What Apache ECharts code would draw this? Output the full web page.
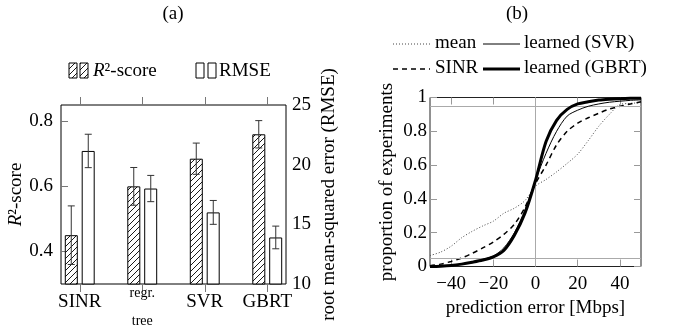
<!DOCTYPE html>
<html>
<head>
<meta charset="utf-8">
<script src="https://cdn.jsdelivr.net/npm/echarts@6/dist/echarts.min.js"></script>
<style>
  html, body { margin: 0; background: #fff; }
  #chart { width: 673px; height: 334px; }
</style>
</head>
<body>
<div id="chart"></div>
<script>
// (a) regression quality per predictor
const methods = ['SINR', 'regr. tree', 'SVR', 'GBRT'];
const r2Score = [0.45, 0.60, 0.685, 0.76];
const r2Err = [0.09, 0.058, 0.048, 0.042];
const rmse = [21.15, 18.0, 16.0, 13.9];
const rmseErr = [1.4, 1.1, 1.0, 0.95];
const r2Ticks = [0.4, 0.6, 0.8];
const methodTicks = [0, 1, 2, 3];

// (b) CDF of the prediction error
const errX = [-50, -45, -40, -35, -30, -25, -20, -15, -10, -5, 0, 5, 10, 15, 20, 25, 30, 35, 40, 45, 50];
const cdfMean = [0.065, 0.085, 0.12, 0.17, 0.208, 0.24, 0.268, 0.315, 0.345, 0.39, 0.475, 0.515, 0.56, 0.61, 0.665, 0.745, 0.83, 0.9, 0.958, 0.965, 0.97];
const cdfSinr = [0.005, 0.014, 0.03, 0.05, 0.078, 0.11, 0.145, 0.19, 0.25, 0.35, 0.49, 0.6, 0.72, 0.8, 0.848, 0.88, 0.907, 0.932, 0.948, 0.962, 0.975];
const cdfSvr = [0.0, 0.003, 0.007, 0.015, 0.027, 0.042, 0.062, 0.11, 0.2, 0.335, 0.51, 0.67, 0.8, 0.89, 0.925, 0.948, 0.962, 0.972, 0.978, 0.983, 0.986];
const cdfGbrt = [0.0, 0.002, 0.006, 0.014, 0.025, 0.038, 0.057, 0.095, 0.185, 0.315, 0.51, 0.74, 0.865, 0.93, 0.962, 0.975, 0.985, 0.99, 0.993, 0.995, 0.996];
const refY = [0.05, 0.95];
const refX = [0];
const errTicks = [-40, -20, 0, 20, 40];

const FONT = 'Liberation Serif';
const zip = (xs, ys) => xs.map((x, i) => [x, ys[i]]);

// diagonal hatch used for the R2 bars
function makeHatch() {
  const c = document.createElement('canvas');
  c.width = c.height = 6;
  const g = c.getContext('2d');
  g.fillStyle = '#fff';
  g.fillRect(0, 0, 6, 6);
  g.strokeStyle = '#000';
  g.lineWidth = 0.9;
  g.beginPath();
  g.moveTo(0, 6); g.lineTo(6, 0);
  g.moveTo(-1, 1); g.lineTo(1, -1);
  g.moveTo(5, 7); g.lineTo(7, 5);
  g.stroke();
  return c;
}
const hatch = { image: makeHatch(), repeat: 'repeat' };

function errorBars(mean, err, yIdx, dx) {
  return {
    type: 'custom',
    xAxisIndex: 0,
    yAxisIndex: yIdx,
    z: 5,
    data: mean.map((m, i) => [i, m - err[i], m + err[i]]),
    renderItem(params, api) {
      const lo = api.coord([api.value(0), api.value(1)]);
      const hi = api.coord([api.value(0), api.value(2)]);
      const x = lo[0] + dx, w = 3.5;
      const st = () => ({ stroke: '#333', lineWidth: 1 });
      return {
        type: 'group',
        children: [
          { type: 'line', shape: { x1: x, y1: lo[1], x2: x, y2: hi[1] }, style: st() },
          { type: 'line', shape: { x1: x - w, y1: lo[1], x2: x + w, y2: lo[1] }, style: st() },
          { type: 'line', shape: { x1: x - w, y1: hi[1], x2: x + w, y2: hi[1] }, style: st() }
        ]
      };
    }
  };
}

function legendLine(x, y, style) {
  return { type: 'line', shape: { x1: x, y1: y, x2: x + 37, y2: y }, style: Object.assign({ stroke: '#000' }, style) };
}
function legendText(x, y, text) {
  return { type: 'text', x: x, y: y, style: { text: text, font: '19px "Liberation Serif"', fill: '#000', verticalAlign: 'middle' } };
}
function legendBox(x, y, fill) {
  return { type: 'rect', shape: { x: x, y: y, width: 8, height: 15 }, style: { fill: fill, stroke: '#000', lineWidth: 1 } };
}

const labelStyle = { fontFamily: FONT, fontSize: 19, color: '#000' };
const blank = () => '';
const noLine = { show: false, onZero: false };

const option = {
  animation: false,
  textStyle: { fontFamily: FONT },
  grid: [
    { left: 61, right: 387, top: 105, bottom: 50, show: true, borderColor: '#000', borderWidth: 1, backgroundColor: 'transparent' },
    { left: 430, right: 32, top: 97.5, bottom: 67.5, show: true, borderColor: '#222', borderWidth: 1, backgroundColor: 'transparent' }
  ],
  xAxis: [
    {
      type: 'value', gridIndex: 0, position: 'bottom', min: -0.3, max: 3.3,
      axisLine: noLine, splitLine: { show: false },
      axisTick: { show: true, inside: false, length: 8, customValues: methodTicks, lineStyle: { color: '#777' } },
      axisLabel: {
        customValues: methodTicks, margin: 9, verticalAlign: 'top', ...labelStyle,
        formatter: v => v === 1 ? '{a|regr.}\n{b|tree}' : methods[v],
        rich: {
          a: { fontFamily: FONT, fontSize: 14, lineHeight: 1, color: '#000' },
          b: { fontFamily: FONT, fontSize: 14, lineHeight: 54, color: '#000' }
        }
      }
    },
    {
      type: 'value', gridIndex: 0, position: 'top', min: -0.3, max: 3.3,
      axisLine: noLine, splitLine: { show: false },
      axisTick: { show: true, inside: false, length: 8, customValues: methodTicks, lineStyle: { color: '#777' } },
      axisLabel: { customValues: methodTicks, formatter: blank }
    },
    {
      type: 'value', gridIndex: 1, position: 'bottom', min: -50, max: 50,
      axisLine: noLine, splitLine: { show: false },
      axisTick: { show: true, inside: true, length: 7, customValues: errTicks, lineStyle: { color: '#999' } },
      axisLabel: { customValues: errTicks, margin: 8, ...labelStyle, formatter: v => v < 0 ? '\u2212' + (-v) : String(v) },
      name: 'prediction error [Mbps]', nameLocation: 'middle', nameGap: 27,
      nameTextStyle: { fontFamily: FONT, fontSize: 19, color: '#000' }
    },
    {
      type: 'value', gridIndex: 1, position: 'top', min: -50, max: 50,
      axisLine: noLine, splitLine: { show: false },
      axisTick: { show: true, inside: true, length: 7, customValues: errTicks, lineStyle: { color: '#999' } },
      axisLabel: { customValues: errTicks, formatter: blank }
    }
  ],
  yAxis: [
    {
      type: 'value', gridIndex: 0, position: 'left', min: 0.3, max: 0.85,
      axisLine: noLine, splitLine: { show: false },
      axisTick: { show: true, inside: true, length: 7, customValues: r2Ticks, lineStyle: { color: '#777' } },
      axisLabel: { customValues: r2Ticks, margin: 8, ...labelStyle, formatter: v => v.toFixed(1) },
      name: '{i|R}\u00b2-score', nameLocation: 'middle', nameRotate: 90, nameGap: 31,
      nameTextStyle: {
        fontFamily: FONT, fontSize: 19, color: '#000',
        rich: { i: { fontFamily: FONT, fontSize: 19, fontStyle: 'italic', color: '#000' } }
      }
    },
    {
      type: 'value', gridIndex: 0, position: 'right', min: 10, max: 25, interval: 5,
      axisLine: noLine, splitLine: { show: false },
      axisTick: { show: false },
      axisLabel: { margin: 6, ...labelStyle },
      name: 'root mean-squared error (RMSE)', nameLocation: 'middle', nameRotate: 90, nameGap: 34,
      nameTextStyle: { fontFamily: FONT, fontSize: 19, color: '#000' }
    },
    {
      type: 'value', gridIndex: 1, position: 'left', min: 0, max: 1, interval: 0.2,
      axisLine: noLine, splitLine: { show: false },
      axisTick: { show: true, inside: true, length: 7, lineStyle: { color: '#999' } },
      axisLabel: { margin: 3, ...labelStyle },
      name: 'proportion of experiments', nameLocation: 'middle', nameRotate: 90, nameGap: 33,
      nameTextStyle: { fontFamily: FONT, fontSize: 19, color: '#000' }
    },
    {
      type: 'value', gridIndex: 1, position: 'right', min: 0, max: 1, interval: 0.2,
      axisLine: noLine, splitLine: { show: false },
      axisTick: { show: true, inside: true, length: 7, lineStyle: { color: '#999' } },
      axisLabel: { formatter: blank }
    }
  ],
  series: [
    {
      name: 'R2-score', type: 'bar', xAxisIndex: 0, yAxisIndex: 0,
      barWidth: 13, barGap: '30%',
      data: zip(methodTicks, r2Score),
      itemStyle: { color: hatch, borderColor: '#000', borderWidth: 1 }
    },
    {
      name: 'RMSE', type: 'bar', xAxisIndex: 0, yAxisIndex: 1,
      barWidth: 13, barGap: '30%',
      data: zip(methodTicks, rmse),
      itemStyle: { color: '#fff', borderColor: '#000', borderWidth: 1 }
    },
    errorBars(r2Score, r2Err, 0, -8.5),
    errorBars(rmse, rmseErr, 1, 8.5),
    {
      name: 'mean', type: 'line', xAxisIndex: 2, yAxisIndex: 2, z: 3,
      data: zip(errX, cdfMean), showSymbol: false, symbol: 'none', smooth: 0.3,
      lineStyle: { color: '#444', width: 1, type: [1, 2] },
      markLine: {
        silent: true, symbol: ['none', 'none'], label: { show: false },
        lineStyle: { color: '#aaa', type: 'solid', width: 1 },
        data: refY.map(v => ({ yAxis: v })).concat(refX.map(v => ({ xAxis: v })))
      }
    },
    {
      name: 'SINR', type: 'line', xAxisIndex: 2, yAxisIndex: 2, z: 4,
      data: zip(errX, cdfSinr), showSymbol: false, symbol: 'none', smooth: 0.3,
      lineStyle: { color: '#000', width: 1.5, type: [5, 4] }
    },
    {
      name: 'learned (SVR)', type: 'line', xAxisIndex: 2, yAxisIndex: 2, z: 5,
      data: zip(errX, cdfSvr), showSymbol: false, symbol: 'none', smooth: 0.3,
      lineStyle: { color: '#000', width: 1 }
    },
    {
      name: 'learned (GBRT)', type: 'line', xAxisIndex: 2, yAxisIndex: 2, z: 6,
      data: zip(errX, cdfGbrt), showSymbol: false, symbol: 'none', smooth: 0.3,
      lineStyle: { color: '#000', width: 3 }
    }
  ],
  graphic: [
    { type: 'text', x: 173, y: 14, style: { text: '(a)', font: '19px "Liberation Serif"', fill: '#000', align: 'center', verticalAlign: 'middle' } },
    { type: 'text', x: 517, y: 14, style: { text: '(b)', font: '19px "Liberation Serif"', fill: '#000', align: 'center', verticalAlign: 'middle' } },
    // legend (a)
    legendBox(69, 63, hatch),
    legendBox(80, 63, hatch),
    {
      type: 'text', x: 93, y: 71,
      style: {
        text: '{i|R}\u00b2-score', fill: '#000', verticalAlign: 'middle',
        font: '19px "Liberation Serif"',
        rich: { i: { fontFamily: FONT, fontSize: 19, fontStyle: 'italic' } }
      }
    },
    legendBox(196, 63, '#fff'),
    legendBox(208, 63, '#fff'),
    legendText(219, 71, 'RMSE'),
    // legend (b)
    legendLine(393, 44, { lineWidth: 1, lineDash: [1, 2], stroke: '#444' }),
    legendText(435, 43, 'mean'),
    legendLine(483, 44, { lineWidth: 1 }),
    legendText(524, 43, 'learned (SVR)'),
    legendLine(393, 69, { lineWidth: 1.5, lineDash: [5, 4] }),
    legendText(435, 68, 'SINR'),
    legendLine(483, 69, { lineWidth: 3 }),
    legendText(524, 68, 'learned (GBRT)')
  ]
};

const chart = echarts.init(document.getElementById('chart'));
chart.setOption(option);
</script>
</body>
</html>
